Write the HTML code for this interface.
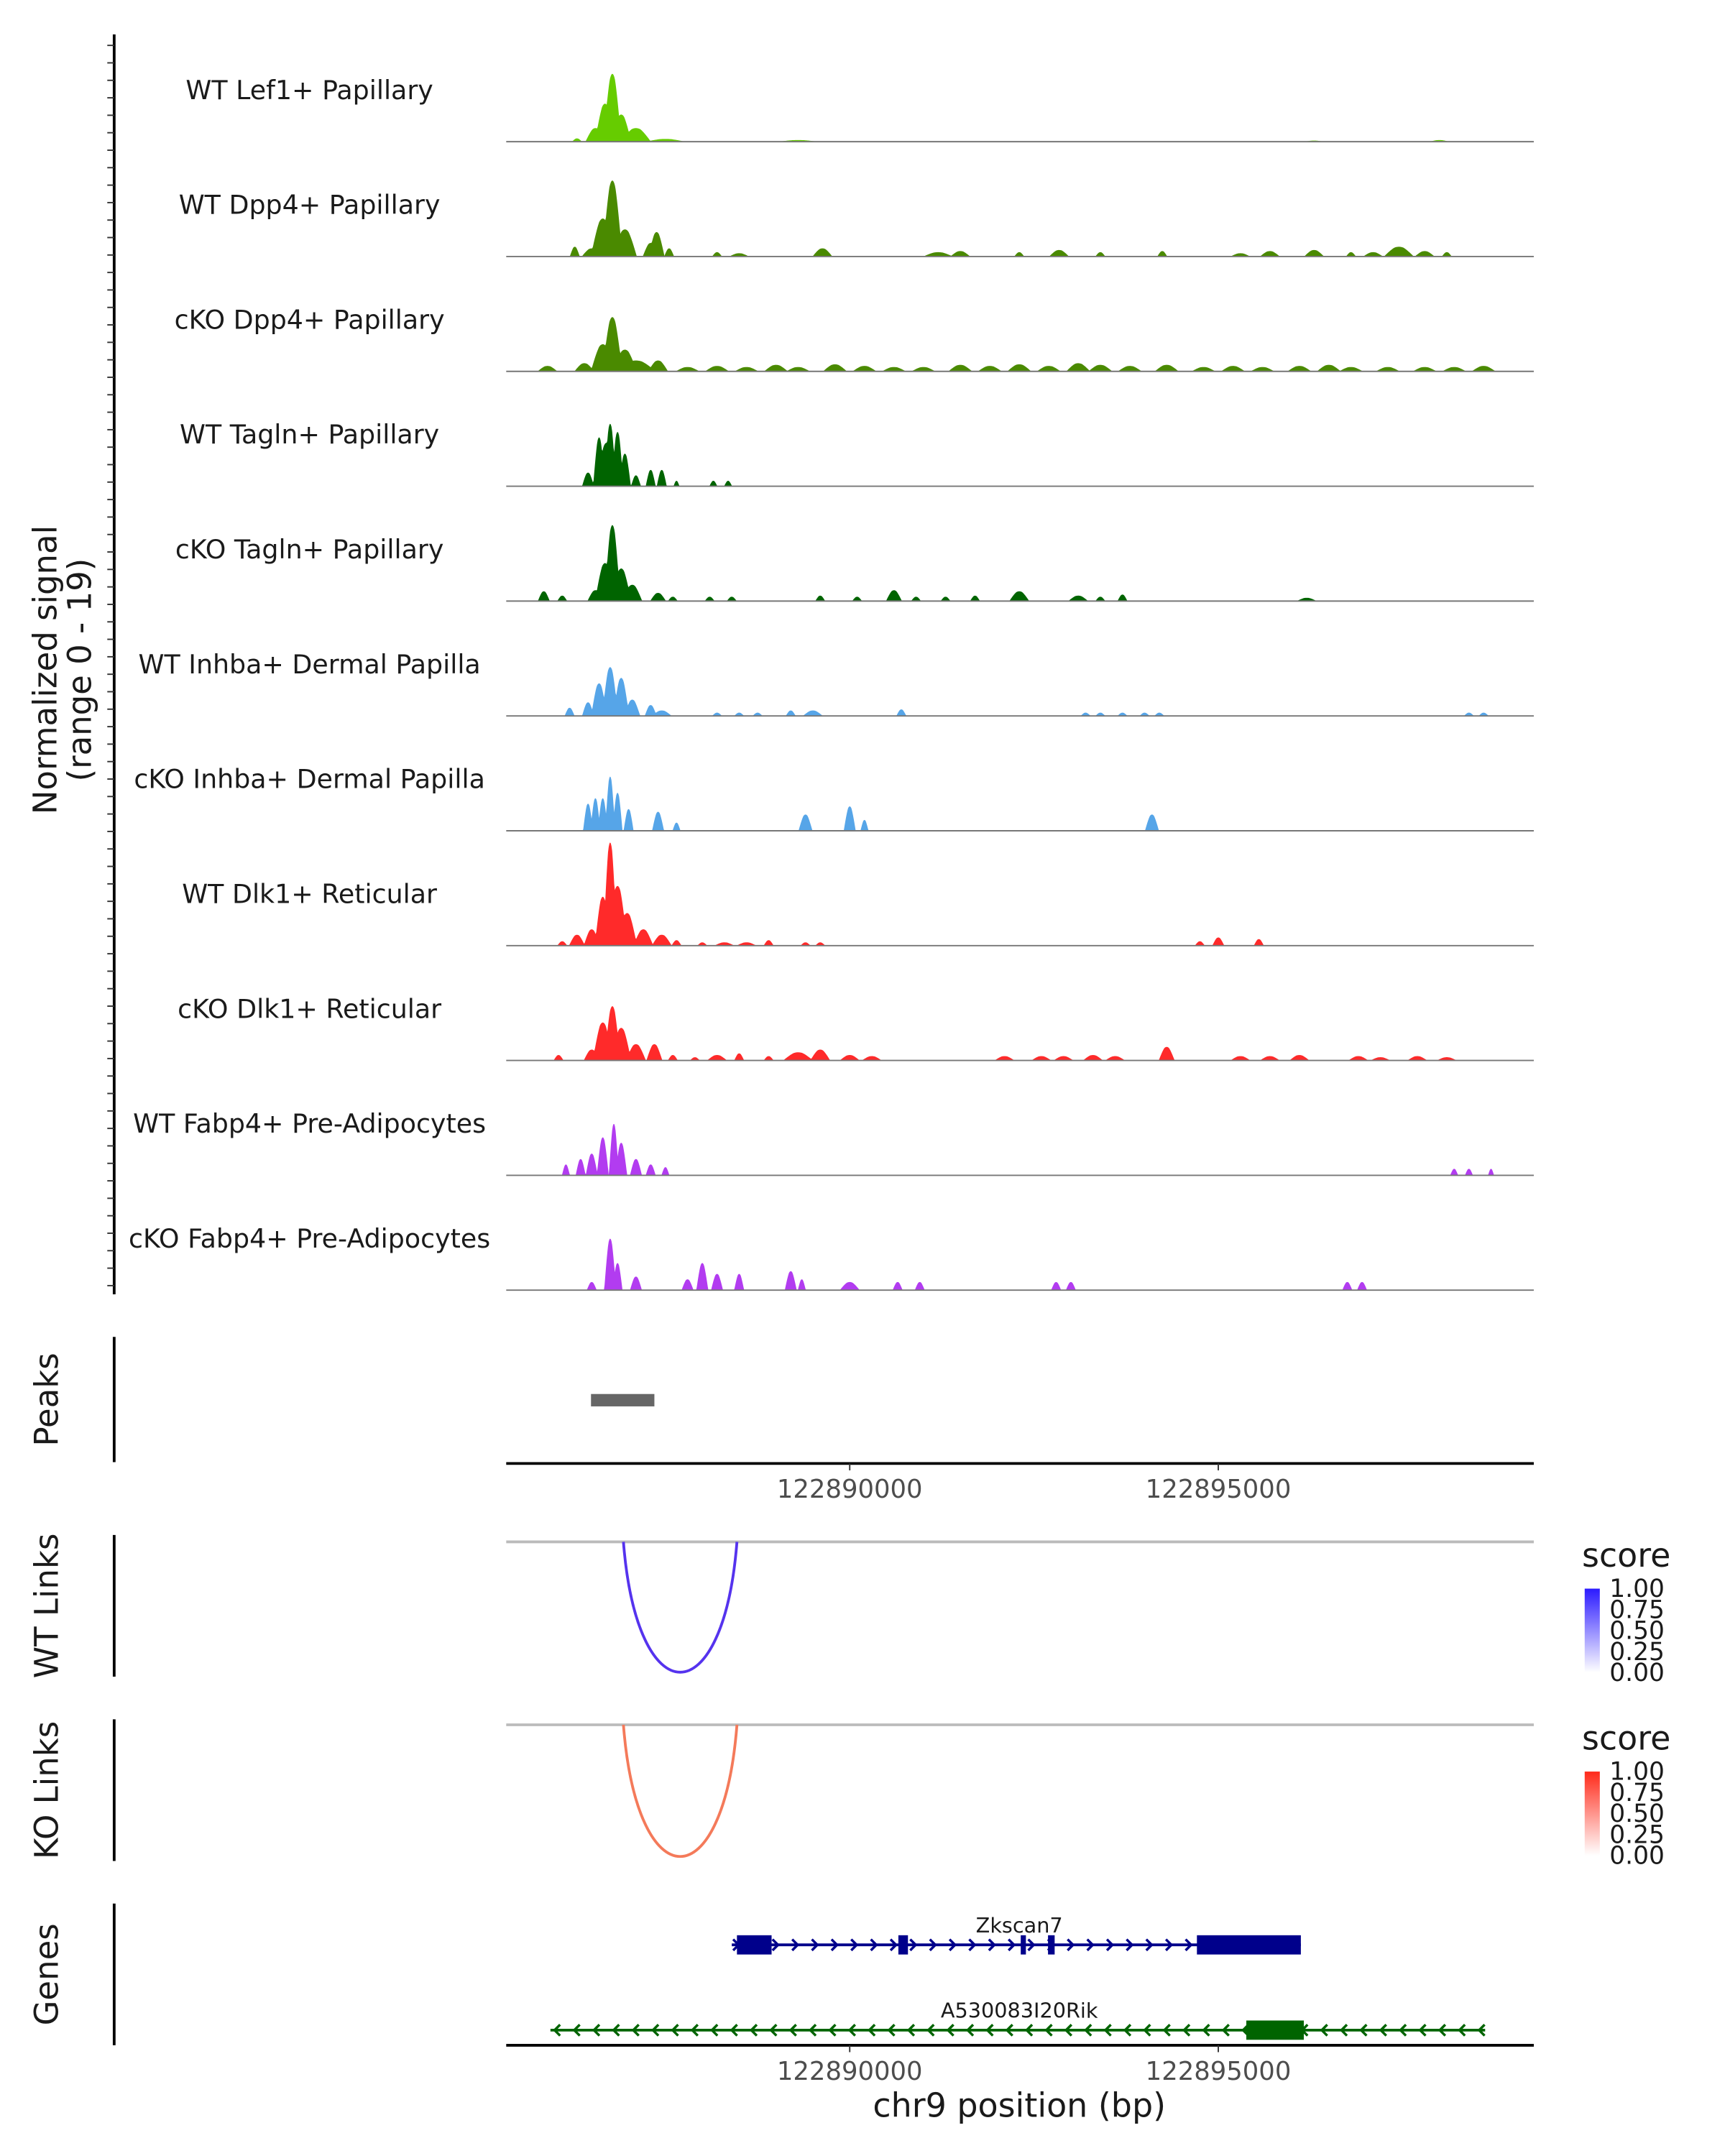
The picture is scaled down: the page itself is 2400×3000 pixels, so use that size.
<!DOCTYPE html>
<html><head><meta charset="utf-8"><style>
html,body{margin:0;padding:0;background:#fff}
svg{display:block}
text{font-family:"DejaVu Sans","Liberation Sans",sans-serif}
</style></head><body>
<svg id="chart" width="2400" height="3000" viewBox="0 0 1254 1567.5" xmlns="http://www.w3.org/2000/svg">
<g id="tracks"></g>
<g id="extra"></g>
</svg>
<script>
// genomic domain (kb offsets from 122885000)
const xDomain = [0.34, 14.28];
const xTicks = [122890000, 122895000];
const yMax = 19;
const trackNames = ["WT Lef1+ Papillary","WT Dpp4+ Papillary","cKO Dpp4+ Papillary","WT Tagln+ Papillary","cKO Tagln+ Papillary","WT Inhba+ Dermal Papilla","cKO Inhba+ Dermal Papilla","WT Dlk1+ Reticular","cKO Dlk1+ Reticular","WT Fabp4+ Pre-Adipocytes","cKO Fabp4+ Pre-Adipocytes"];
const trackColors = ["#66cc00","#4a8a00","#4a8a00","#006400","#006400","#56a5e8","#56a5e8","#ff2a2a","#ff2a2a","#b23cf0","#b23cf0"];
// peaks: [position kb offset, signal, half-width kb]
const peaks0 = [[1.78,12.5,.09],[1.68,7,.1],[1.9,5,.1],[1.55,2.5,.1],[2.1,2.5,.15],[1.3,0.6,.05],[2.5,0.5,.2],[4.3,0.3,.2],[11.3,0.2,.1],[13.0,0.3,.1]];
const peaks1 = [[1.78,14,.1],[1.65,7,.12],[1.95,5,.12],[1.5,1.5,.1],[1.27,1.8,.05],[2.38,4.5,.08],[2.3,2.5,.08],[2.55,1.5,.05],[3.2,0.8,.05],[3.5,0.6,.1],[4.63,1.5,.1],[6.2,0.8,.15],[6.5,1,.1],[7.3,0.8,.05],[7.84,1.2,.1],[8.4,0.8,.05],[9.24,1,.05],[10.3,0.6,.1],[10.7,1,.1],[11.3,1.2,.1],[11.8,0.8,.05],[12.1,0.8,.1],[12.45,1.8,.15],[12.8,1,.1],[13.1,0.8,.05]];
const peaks2 = [[1.78,10,.1],[1.65,5,.12],[1.95,4,.12],[1.4,1.5,.1],[0.9,1,.1],[2.1,2,.2],[2.4,2,.1],[2.8,0.8,.12],[3.2,1,.12],[3.6,0.8,.12],[4.0,1.2,.12],[4.3,0.8,.12],[4.8,1.3,.12],[5.2,1,.12],[5.6,0.8,.12],[6.0,0.8,.12],[6.5,1.2,.12],[6.9,1,.12],[7.3,1.3,.12],[7.7,1,.12],[8.1,1.5,.12],[8.4,1.2,.12],[8.8,1,.12],[9.3,1.2,.12],[9.8,0.8,.12],[10.2,1,.12],[10.6,0.8,.12],[11.1,1,.12],[11.5,1.2,.12],[11.8,0.8,.12],[12.3,0.8,.12],[12.8,0.8,.12],[13.2,0.8,.12],[13.6,1,.12]];
const peaks3 = [[1.6,9,.06],[1.75,11.5,.06],[1.85,10,.06],[1.7,8,.1],[1.95,6,.06],[1.45,2.5,.06],[2.1,2,.05],[2.3,3,.05],[2.45,3,.05],[2.65,1,.03],[3.15,1,.04],[3.35,1,.04]];
const peaks4 = [[1.78,14,.08],[1.68,7,.1],[1.9,6,.1],[1.55,2,.08],[2.05,3,.1],[0.85,1.8,.06],[1.1,1,.05],[2.4,1.5,.08],[2.6,0.8,.05],[3.1,0.8,.05],[3.4,0.8,.05],[4.6,1,.05],[5.1,0.8,.05],[5.6,2,.08],[5.9,0.8,.05],[6.3,0.8,.05],[6.7,1,.05],[7.3,1.8,.1],[8.1,1,.1],[8.4,0.8,.05],[8.7,1.2,.05],[11.2,0.6,.1]];
const peaks5 = [[1.75,9,.08],[1.9,7,.08],[1.6,6,.08],[2.05,3,.08],[1.45,2.5,.06],[1.2,1.5,.05],[2.3,2,.06],[2.45,1,.1],[3.2,0.6,.05],[3.5,0.6,.05],[3.75,0.6,.05],[4.2,1,.05],[4.5,1,.1],[5.7,1.2,.05],[8.2,0.6,.05],[8.4,0.6,.05],[8.7,0.6,.05],[9.0,0.6,.05],[9.2,0.6,.05],[13.4,0.6,.05],[13.6,0.6,.05]];
const peaks6 = [[1.75,10,.05],[1.55,6,.05],[1.65,6,.05],[1.85,7,.05],[1.45,5,.05],[2.0,4,.05],[2.4,3.5,.06],[2.65,1.5,.04],[4.4,3,.07],[5.0,4.5,.06],[5.2,2,.04],[9.1,3,.07]];
const peaks7 = [[1.75,19,.07],[1.85,11,.1],[1.65,9,.08],[1.98,6,.1],[1.5,3,.08],[1.3,2,.08],[1.1,0.8,.05],[2.2,3,.1],[2.45,2,.1],[2.65,1,.05],[3.0,0.6,.05],[3.3,0.6,.1],[3.6,0.6,.1],[3.9,1,.05],[4.4,0.6,.05],[4.6,0.6,.05],[9.75,0.8,.05],[10.0,1.5,.06],[10.55,1.2,.05]];
const peaks8 = [[1.78,10,.08],[1.65,7,.1],[1.9,6,.1],[1.5,2,.08],[2.1,3,.1],[2.35,3,.08],[2.6,1,.05],[1.05,1,.05],[2.9,0.6,.05],[3.2,1,.1],[3.5,1.3,.05],[3.9,0.8,.05],[4.3,1.5,.15],[4.6,2,.1],[5.0,1,.1],[5.3,0.8,.1],[7.1,0.8,.1],[7.6,0.8,.1],[7.9,0.8,.1],[8.3,1,.1],[8.6,0.8,.1],[9.3,2.5,.08],[10.3,0.8,.1],[10.7,0.8,.1],[11.1,1,.1],[11.9,0.8,.1],[12.2,0.6,.1],[12.7,0.8,.1],[13.1,0.6,.1]];
const peaks9 = [[1.8,9.5,.05],[1.65,7,.06],[1.9,6,.06],[1.5,4,.06],[1.35,3,.05],[1.15,2,.04],[2.1,3,.06],[2.3,2,.05],[2.5,1.5,.04],[13.2,1.2,.04],[13.4,1.2,.04],[13.7,1.2,.03]];
const peaks10 = [[1.75,9.5,.06],[1.85,5,.05],[1.5,1.5,.05],[2.1,2.5,.06],[2.8,2,.06],[3.0,5,.06],[3.2,3,.06],[3.5,3,.05],[4.2,3.5,.06],[4.35,2,.04],[5.0,1.5,.1],[5.65,1.5,.05],[5.95,1.5,.05],[7.8,1.5,.05],[8.0,1.5,.05],[11.75,1.5,.05],[11.95,1.5,.05]];
const allPeaks = [peaks0,peaks1,peaks2,peaks3,peaks4,peaks5,peaks6,peaks7,peaks8,peaks9,peaks10];
const peakRegion = [1.49, 2.35];
const linkStart = 1.93, linkEnd = 3.47;
const zkExons = [[3.47,3.94],[5.66,5.79],[7.32,7.39],[7.69,7.78],[9.71,11.12]];
const zkRange = [3.4, 11.12];
const rikExons = [[10.38,11.16]];
const rikRange = [0.94, 13.62];

const NS="http://www.w3.org/2000/svg";
const X0=368,X1=1115;
function xs(k){return X0+(k-xDomain[0])/(xDomain[1]-xDomain[0])*(X1-X0);}
function xbp(bp){return xs((bp-122885000)/1000);}
function el(tag,attrs,parent,txt){const e=document.createElementNS(NS,tag);for(const a in attrs)e.setAttribute(a,attrs[a]);if(txt!==undefined)e.textContent=txt;parent.appendChild(e);return e;}
const svg=document.getElementById('chart');
const tg=document.getElementById('tracks');
const ex=document.getElementById('extra');
const TH=83.5, base0=103, pxPer=75/yMax;
trackNames.forEach((name,i)=>{
  const b=base0+i*TH;
  const g=el('g',{},tg);
  
  
  const t=el('text',{x:225,y:b-31,'text-anchor':'middle','font-size':19,fill:'#1a1a1a'},g,name);
  
  
  let d='M'+X0+','+b;
  for(let x=X0;x<=X1;x+=0.5){
    const k=xDomain[0]+(x-X0)/(X1-X0)*(xDomain[1]-xDomain[0]);
    let v=0;
    allPeaks[i].forEach(p=>{const q=Math.abs(k-p[0])/(p[2]*1.35);if(q<1)v=Math.max(v,p[1]*(1-q*q)*(q<0.3?1:(1-0.35*(q-0.3))));});
    d+='L'+x+','+(b-v*pxPer).toFixed(2);
  }
  d+='L'+X1+','+b+'Z';
  const a=el('path',{d:d,fill:trackColors[i]},g);
  
  
  const l=el('line',{x1:X0,x2:X1,y1:b,y2:b,stroke:'#777','stroke-width':1},g);
  
  
});
// left axis
const ax=el('line',{x1:83,x2:83,y1:25,y2:941,stroke:'#000','stroke-width':2},tg);


for(let y=33;y<=940;y+=12.7){el('line',{x1:78,x2:83,y1:y,y2:y,stroke:'#333','stroke-width':1},tg);}
const yt=el('text',{transform:'translate(43,487) rotate(-90)','text-anchor':'middle','font-size':23.5,fill:'#1a1a1a'},tg);


el('tspan',{x:0,dy:-2},yt,'Normalized signal');
el('tspan',{x:0,dy:25},yt,'(range 0 - 19)');

function panelAxis(y1,y2,label,name){
  const l=el('line',{x1:83,x2:83,y1:y1,y2:y2,stroke:'#000','stroke-width':2},ex);
  
  
  const t=el('text',{transform:'translate(42,'+((y1+y2)/2)+') rotate(-90)','text-anchor':'middle','font-size':23.5,fill:'#1a1a1a'},ex,label);
  
  
}
panelAxis(972,1063,'Peaks','peaks');
const pk=el('rect',{x:xs(peakRegion[0]),y:1013.5,width:xs(peakRegion[1])-xs(peakRegion[0]),height:9,fill:'#666'},ex);


function xAxis(y,name){
  const l=el('line',{x1:X0,x2:X1,y1:y,y2:y,stroke:'#000','stroke-width':2},ex);
  
  
  xTicks.forEach(t=>{el('line',{x1:xbp(t),x2:xbp(t),y1:y,y2:y+5,stroke:'#333'},ex);
    const tx=el('text',{x:xbp(t),y:y+25,'text-anchor':'middle','font-size':18.5,fill:'#4d4d4d'},ex,String(t));
    
    });
}
xAxis(1064,'x-axis-peaks');
function linkPanel(y1,y2,gy,label,name,col,dark){
  panelAxis(y1,y2,label,name);
  el('line',{x1:X0,x2:X1,y1:gy,y2:gy,stroke:'#bbb','stroke-width':2},ex);
  const xa=xs(linkStart),xb=xs(linkEnd),depth=y2-3-gy;
  const arc=el('path',{d:`M${xa},${gy} C${xa+ (xb-xa)*0.12},${gy+depth*1.33} ${xb-(xb-xa)*0.12},${gy+depth*1.33} ${xb},${gy}`,fill:'none',stroke:col,'stroke-width':2},ex);
  
  
  const ly=gy+14;
  const lt=el('text',{x:1150,y:ly+4,'font-size':24,fill:'#1a1a1a'},ex,'score');
  
  
  const gid='grad'+name;
  const gr=el('linearGradient',{id:gid,x1:0,x2:0,y1:1,y2:0},svg);
  el('stop',{offset:0,'stop-color':'#ffffff'},gr);el('stop',{offset:1,'stop-color':dark},gr);
  const cb=el('rect',{x:1152,y:ly+20,width:11,height:61,fill:`url(#${gid})`},ex);
  
  
  ['1.00','0.75','0.50','0.25','0.00'].forEach((s,j)=>{el('text',{x:1170,y:ly+26+j*15.3,'font-size':18,fill:'#1a1a1a'},ex,s);});
}
linkPanel(1116,1219,1121,'WT Links','wt-links','#5533ee','#2b1aff');
linkPanel(1250,1353,1254,'KO Links','ko-links','#f47a5a','#ff2a1a');
panelAxis(1384,1487,'Genes','genes');
function gene(range,exons,y,col,dir,label,name){
  const g=el('g',{},ex);
  
  
  el('line',{x1:xs(range[0]),x2:xs(range[1]),y1:y,y2:y,stroke:col,'stroke-width':2},g);
  for(let x=xs(range[0])+4;x<xs(range[1]);x+=14.3){
    const p=dir>0?`M${x-3},${y-4} L${x+1},${y} L${x-3},${y+4}`:`M${x+3},${y-4} L${x-1},${y} L${x+3},${y+4}`;
    el('path',{d:p,fill:'none',stroke:col,'stroke-width':1.8},g);
  }
  exons.forEach(e=>el('rect',{x:xs(e[0]),y:y-7,width:xs(e[1])-xs(e[0]),height:14,fill:col},g));
  el('text',{x:741,y:y-9,'text-anchor':'middle','font-size':15,fill:'#1a1a1a'},g,label);
}
gene(zkRange,zkExons,1414,'#00008b',1,'Zkscan7','gene-zkscan7');
gene(rikRange,rikExons,1476,'#006400',-1,'A530083I20Rik','gene-a530083i20rik');
xAxis(1487,'x-axis-genes');
const xt=el('text',{x:741,y:1539,'text-anchor':'middle','font-size':24,fill:'#1a1a1a'},ex,'chr9 position (bp)');


</script>
</body></html>
